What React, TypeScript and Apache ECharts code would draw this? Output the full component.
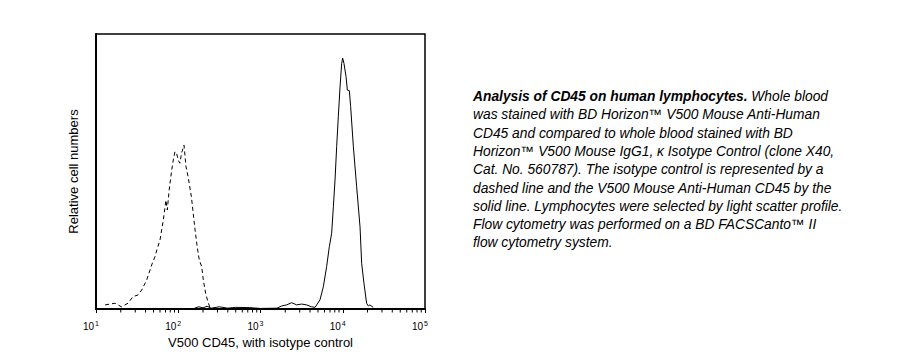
import React, { useEffect, useRef } from "react";
import * as echarts from "echarts";

// Fluorescence intensity (x) and relative cell numbers (y)
const isotypeX = [12.9, 17.0, 20.4, 24.5, 28.2, 32.4, 35.9, 41.3, 47.5, 52.1, 55.0, 60.0, 65.9, 70.8, 73.6, 77.6, 83.2, 87.1, 91.2, 95.5, 100, 104.7, 109.6, 117.5, 124.2, 131.8, 144.5, 158.5, 169.8, 180.3, 192.8, 201.8, 215.3, 232.3, 243.2];
const isotypeY = [1.5, 2.1, 0.8, 2.1, 4.5, 5.1, 6.9, 10.5, 16, 19, 21.5, 25.1, 32.4, 39.6, 36, 43.3, 50.5, 54.2, 57.2, 56.6, 54.2, 53, 56.6, 59.6, 51.8, 48.1, 40.8, 29.9, 22.7, 17.8, 15.4, 10.5, 5.7, 2.1, 0.6];

const cd45X = [158, 178, 200, 224, 251, 316, 398, 501, 741, 1000, 1585, 1807, 2080, 2393, 2754, 3162, 3631, 4169, 4603, 5284, 5808, 6368, 6871, 7328, 7691, 8054, 8433, 8831, 9268, 9705, 9977, 10351, 10965, 11376, 12023, 12474, 13459, 14757, 16218, 16982, 18113, 19498, 20464, 21380, 23442];
const cd45Y = [0.3, 0.8, 0.4, 1.0, 0.3, 0.8, 0.3, 0.6, 0.5, 0.2, 0.3, 1.1, 1.5, 2.3, 1.5, 1.8, 1.5, 0.8, 0.6, 3.3, 8.1, 15.4, 22.7, 27.5, 37.2, 46.9, 59.0, 69.9, 80.8, 89.3, 91.2, 89.3, 84.5, 79.6, 79.4, 73.6, 59.0, 44.5, 29.9, 16.6, 9.3, 2.1, 1.1, 1.5, 0.6];

const decades = [10, 100, 1000, 10000];
const minorMultipliers = [2, 3, 4, 5, 6, 7, 8, 9];

const xAxisTitle = "V500 CD45, with isotype control";
const yAxisTitle = "Relative cell numbers";

const captionLines = [
  "{b|Analysis of CD45 on human lymphocytes.} Whole blood",
  "was stained with BD Horizon™ V500 Mouse Anti-Human",
  "CD45 and compared to whole blood stained with BD",
  "Horizon™ V500 Mouse IgG1, κ Isotype Control (clone X40,",
  "Cat. No. 560787). The isotype control is represented by a",
  "dashed line and the V500 Mouse Anti-Human CD45 by the",
  "solid line. Lymphocytes were selected by light scatter profile.",
  "Flow cytometry was performed on a BD FACSCanto™ II",
  "flow cytometry system.",
];

const FONT = "Arial, 'Liberation Sans', sans-serif";
const CAP_SIZE = 13.8;

export default function App() {
  const ref = useRef<HTMLDivElement>(null);
  useEffect(() => {
    if (!ref.current) return;
    const chart = echarts.init(ref.current, undefined, { renderer: "svg" });
    const minorTicks: number[][] = [];
    decades.forEach((d) => minorMultipliers.forEach((m) => minorTicks.push([d * m, 0])));

    const caption = captionLines.map((line, i) => ({
      type: "text",
      left: 473,
      top: 89.5 + i * 18.3,
      style: {
        text: line,
        fill: "#000",
        fontFamily: FONT,
        fontStyle: "italic",
        fontSize: CAP_SIZE,
        rich: {
          b: { fontWeight: "bold", fontStyle: "italic", fontSize: CAP_SIZE, fontFamily: FONT, fill: "#000" },
        },
      },
    }));

    chart.setOption({
      animation: false,
      textStyle: { fontFamily: FONT },
      grid: {
        left: 96,
        top: 34,
        width: 329,
        height: 275,
        show: true,
        borderColor: "#000",
        borderWidth: 1.5,
        backgroundColor: "transparent",
      },
      xAxis: {
        type: "log",
        logBase: 10,
        min: 10,
        max: 100000,
        splitNumber: 4,
        splitLine: { show: false },
        axisLine: { show: true, lineStyle: { color: "#000", width: 2 } },
        axisTick: { show: true, length: 4, lineStyle: { color: "#000" } },
        axisLabel: {
          margin: 11,
          color: "#000",
          fontSize: 10,
          fontFamily: FONT,
          padding: [0, 10, 0, 0],
          formatter: (v: number) => `10{sup|${Math.round(Math.log10(v))}}`,
          rich: {
            sup: { fontSize: 7, padding: [0, 0, 6, 1], fontFamily: FONT, color: "#000" },
          },
        },
        name: xAxisTitle,
        nameLocation: "middle",
        nameGap: 26,
        nameTextStyle: { color: "#000", fontSize: 13, fontFamily: FONT },
      },
      yAxis: {
        type: "value",
        min: 0,
        max: 100,
        splitLine: { show: false },
        axisLine: { show: true, lineStyle: { color: "#000", width: 2 } },
        axisTick: { show: false },
        axisLabel: { show: false },
        name: yAxisTitle,
        nameLocation: "middle",
        nameGap: 16,
        nameTextStyle: { color: "#000", fontSize: 13, fontFamily: FONT },
      },
      series: [
        {
          type: "line",
          data: isotypeX.map((x, i) => [x, isotypeY[i]]),
          symbol: "none",
          lineStyle: { color: "#000", width: 1, type: [4, 3] },
        },
        {
          type: "line",
          data: cd45X.map((x, i) => [x, cd45Y[i]]),
          symbol: "none",
          lineStyle: { color: "#000", width: 1 },
        },
        {
          type: "custom",
          clip: false,
          silent: true,
          data: minorTicks,
          renderItem: (_p: any, api: any) => {
            const pt = api.coord([api.value(0), 0]);
            return {
              type: "line",
              shape: { x1: pt[0], y1: pt[1] + 1, x2: pt[0], y2: pt[1] + 3.5 },
              style: { stroke: "#000", lineWidth: 1 },
            };
          },
        },
      ],
      graphic: caption,
    });
    return () => chart.dispose();
  }, []);
  return (
    <div
      ref={ref}
      style={{ position: "fixed", left: 0, top: 0, width: 923, height: 362, background: "#fff" }}
    />
  );
}
